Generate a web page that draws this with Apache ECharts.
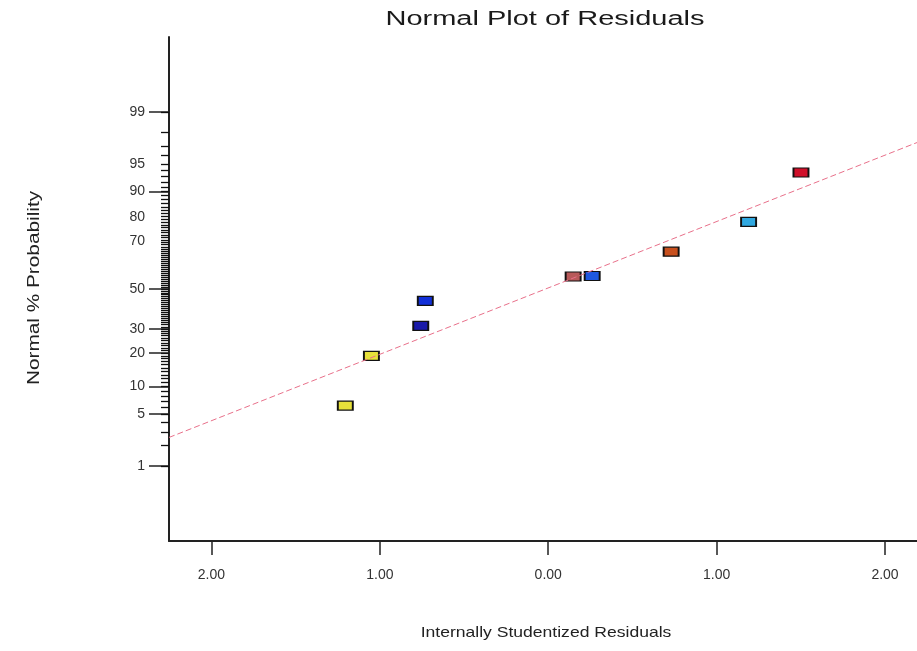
<!DOCTYPE html>
<html>
<head>
<meta charset="utf-8">
<script src="https://cdn.jsdelivr.net/npm/echarts@6/dist/echarts.min.js"></script>
<style>
html,body{margin:0;padding:0;background:#fff;}
#chart{width:917px;height:651px;}
</style>
</head>
<body>
<div id="chart"></div>
<script>
// ---- data ----
var residuals   = [-1.205, -1.050, -0.757, -0.730, 0.148, 0.261, 0.730, 1.190, 1.501];
var probability = [6.29, 19.0, 31.4, 43.8, 56.5, 56.8, 68.8, 81.1, 93.7];
var pointColors = ['#e6e03a', '#e6e03a', '#1a1aa8', '#1230d8', '#b85a5a', '#2058e0', '#c8501e', '#30a8e0', '#d0102a'];
var fitLineX    = [-2.252, 2.19];
var fitLinePct  = [2.56, 97.28];
var yTickPct    = [1, 5, 10, 20, 30, 50, 70, 80, 90, 95, 99];
var yTickLabels = ['1', '5', '10', '20', '30', '50', '70', '80', '90', '95', '99'];
var yMajorTickPct = [1, 5, 10, 20, 30, 50, 90, 99];
var xTickValues = [-2, -1, 0, 1, 2];
var xTickLabels = ['2.00', '1.00', '0.00', '1.00', '2.00'];
var titleText = 'Normal Plot of Residuals';
var xName = 'Internally Studentized Residuals';
var yName = 'Normal % Probability';

// inverse standard normal CDF (Acklam)
function normInv(p) {
  var a = [-3.969683028665376e+01, 2.209460984245205e+02, -2.759285104469687e+02, 1.383577518672690e+02, -3.066479806614716e+01, 2.506628277459239e+00];
  var b = [-5.447609879822406e+01, 1.615858368580409e+02, -1.556989798598866e+02, 6.680131188771972e+01, -1.328068155288572e+01];
  var c = [-7.784894002430293e-03, -3.223964580411365e-01, -2.400758277161838e+00, -2.549732539343734e+00, 4.374664141464968e+00, 2.938163982698783e+00];
  var d = [7.784695709041462e-03, 3.224671290700398e-01, 2.445134137142996e+00, 3.754408661907416e+00];
  var pl = 0.02425, q, r;
  if (p < pl) {
    q = Math.sqrt(-2 * Math.log(p));
    return (((((c[0]*q+c[1])*q+c[2])*q+c[3])*q+c[4])*q+c[5]) / ((((d[0]*q+d[1])*q+d[2])*q+d[3])*q+1);
  } else if (p <= 1 - pl) {
    q = p - 0.5; r = q * q;
    return (((((a[0]*r+a[1])*r+a[2])*r+a[3])*r+a[4])*r+a[5])*q / (((((b[0]*r+b[1])*r+b[2])*r+b[3])*r+b[4])*r+1);
  } else {
    q = Math.sqrt(-2 * Math.log(1 - p));
    return -(((((c[0]*q+c[1])*q+c[2])*q+c[3])*q+c[4])*q+c[5]) / ((((d[0]*q+d[1])*q+d[2])*q+d[3])*q+1);
  }
}
function z(pct) { return normInv(pct / 100); }

var labelZ = yTickPct.map(z);
var majorZ = yMajorTickPct.map(z);
var minorPct = [];
for (var i = 1; i <= 99; i++) minorPct.push(i);
var minorZ = minorPct.map(z);

function yLabel(v) {
  for (var i = 0; i < labelZ.length; i++) {
    if (Math.abs(labelZ[i] - v) < 1e-6) {
      var t = yTickLabels[i];
      // in the reference, 70 and 80 are printed a little above their positions
      if (t === '70' || t === '80') return '{up|' + t + '}';
      return t;
    }
  }
  return '';
}
function xLabel(v) {
  for (var i = 0; i < xTickValues.length; i++) {
    if (Math.abs(xTickValues[i] - v) < 1e-6) return xTickLabels[i];
  }
  return '';
}

var pointData = residuals.map(function (x, i) {
  return { value: [x, z(probability[i])], itemStyle: { color: pointColors[i] } };
});
var lineData = fitLineX.map(function (x, i) { return [x, z(fitLinePct[i])]; });

var FONT = 'Liberation Sans, Arial, sans-serif';
var chart = echarts.init(document.getElementById('chart'), null, { renderer: 'canvas' });
chart.setOption({
  animation: false,
  backgroundColor: '#ffffff',
  graphic: [{
    type: 'text', x: 545, y: 19, scaleX: 1.45, scaleY: 1,
    style: { text: titleText, font: '20px ' + FONT, fill: '#1a1a1a', align: 'center', verticalAlign: 'middle' }
  }, {
    type: 'text', x: 546, y: 633, scaleX: 1.17, scaleY: 1,
    style: { text: xName, font: '15px ' + FONT, fill: '#222', align: 'center', verticalAlign: 'middle' }
  }, {
    type: 'text', x: 35, y: 288, rotation: Math.PI / 2, scaleX: 1.3, scaleY: 1,
    style: { text: yName, font: '16px ' + FONT, fill: '#222', align: 'center', verticalAlign: 'middle' }
  }],
  grid: { left: 169, top: 37, right: 0, bottom: 110, containLabel: false },
  xAxis: {
    type: 'value', min: -2.252, max: 2.19,
    axisLine: { show: true, onZero: false, lineStyle: { color: '#222', width: 2 } },
    axisTick: { show: true, customValues: xTickValues, length: 14, lineStyle: { color: '#222', width: 1.5 } },
    axisLabel: { customValues: xTickValues, formatter: xLabel, margin: 27, fontFamily: FONT, fontSize: 14, color: '#333' },
    splitLine: { show: false }
  },
  yAxis: [{
    type: 'value', min: -3.31, max: 3.31, position: 'left',
    axisLine: { show: true, onZero: false, lineStyle: { color: '#222', width: 2 } },
    axisTick: { show: true, customValues: majorZ, length: 20, lineStyle: { color: '#222', width: 1.5 } },
    axisLabel: {
      customValues: labelZ, formatter: yLabel, margin: 24, fontFamily: FONT, fontSize: 14, color: '#333',
      rich: { up: { fontFamily: FONT, fontSize: 14, color: '#333', padding: [0, 0, 16, 0] } }
    },
    splitLine: { show: false }
  }, {
    type: 'value', min: -3.31, max: 3.31, position: 'left', offset: 0,
    axisLine: { show: false, onZero: false },
    axisTick: { show: true, customValues: minorZ, length: 8, lineStyle: { color: '#111', width: 1.3 } },
    axisLabel: { show: false },
    splitLine: { show: false }
  }],
  series: [{
    type: 'line', data: lineData, symbol: 'none', silent: true,
    lineStyle: { color: '#e8708a', width: 1, type: [6, 3] }
  }, {
    type: 'scatter', data: pointData, symbol: 'rect', symbolSize: [15, 9],
    itemStyle: { opacity: 1, borderColor: '#111', borderWidth: 1.5 }
  }]
});
</script>
</body>
</html>
